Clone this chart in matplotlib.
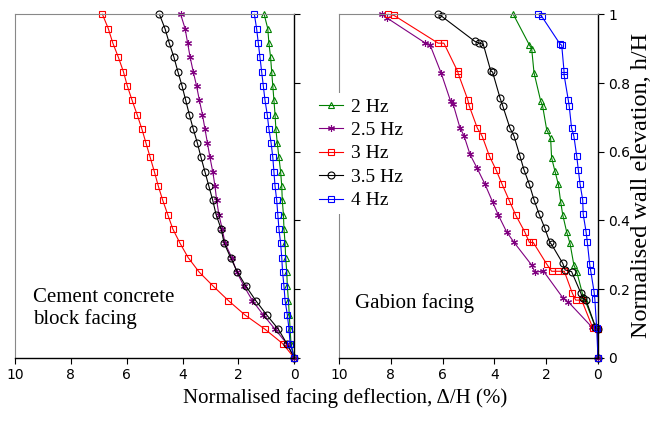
import matplotlib
matplotlib.use("Agg")
import matplotlib.pyplot as plt

plt.rcParams['font.family'] = ['Liberation Serif', 'DejaVu Serif']

# frequencies and plotting styles
freqs = ['2 Hz', '2.5 Hz', '3 Hz', '3.5 Hz', '4 Hz']
colors = ['#008000', '#800080', '#FF0000', '#000000', '#0000FF']
markers = ['^', (6, 2, 0), 's', 'o', 's']

# cement concrete block facing: readings at h/H = k/24 (top to bottom)
h_block = [1 - k / 24 for k in range(25)]
block_2hz = [1.08, 0.95, 0.91, 0.85, 0.81, 0.77, 0.73, 0.69, 0.66, 0.61, 0.55, 0.49, 0.45,
             0.43, 0.39, 0.37, 0.33, 0.31, 0.27, 0.25, 0.21, 0.18, 0.15, 0.12, 0.0]
block_25hz = [4.07, 3.91, 3.82, 3.73, 3.62, 3.50, 3.40, 3.29, 3.20, 3.11, 3.02, 2.92, 2.84,
              2.78, 2.70, 2.58, 2.48, 2.24, 2.06, 1.80, 1.50, 1.11, 0.69, 0.27, 0.0]
block_3hz = [6.87, 6.66, 6.50, 6.30, 6.12, 5.98, 5.81, 5.63, 5.46, 5.31, 5.16, 5.01, 4.87,
             4.71, 4.53, 4.35, 4.09, 3.80, 3.41, 2.90, 2.36, 1.77, 1.05, 0.42, 0.0]
block_35hz = [4.83, 4.63, 4.48, 4.31, 4.17, 4.02, 3.89, 3.76, 3.62, 3.47, 3.34, 3.20, 3.06,
              2.92, 2.80, 2.62, 2.51, 2.28, 2.04, 1.73, 1.38, 0.99, 0.57, 0.27, 0.0]
block_4hz = [1.43, 1.35, 1.29, 1.23, 1.17, 1.11, 1.05, 0.97, 0.91, 0.83, 0.77, 0.73, 0.69,
             0.63, 0.59, 0.55, 0.49, 0.45, 0.42, 0.37, 0.33, 0.25, 0.19, 0.15, 0.0]

# gabion facing: (deflection, elevation) pairs
gab_2hz_x = [3.27, 2.65, 2.56, 2.47, 2.21, 2.14, 1.98, 1.83, 1.79, 1.66, 1.53,
             1.44, 1.36, 1.21, 1.08, 0.93, 0.82, 0.57, 0.50, 0.10, 0.0, 0.0]
gab_2hz_y = [1.0, 0.911, 0.90, 0.83, 0.747, 0.734, 0.664, 0.641, 0.582, 0.543, 0.505,
             0.454, 0.416, 0.367, 0.333, 0.27, 0.251, 0.178, 0.168, 0.09, 0.083, 0.0]
gab_25hz_x = [8.35, 8.16, 6.68, 6.49, 6.06, 5.69, 5.59, 5.33, 5.17, 4.94, 4.68, 4.36,
              4.07, 3.85, 3.53, 3.24, 2.56, 2.43, 2.11, 1.34, 1.15, 0.24, 0.0, 0.0]
gab_25hz_y = [1.0, 0.99, 0.917, 0.912, 0.83, 0.747, 0.738, 0.67, 0.646, 0.592, 0.554, 0.505,
              0.454, 0.416, 0.367, 0.336, 0.27, 0.249, 0.253, 0.173, 0.163, 0.09, 0.083, 0.0]
gab_3hz_x = [8.10, 7.88, 6.17, 5.95, 5.42, 5.39, 5.03, 4.97, 4.66, 4.47, 4.19, 3.94, 3.70,
             3.42, 3.18, 2.83, 2.65, 2.50, 1.98, 1.79, 1.53, 1.30, 0.99, 0.86, 0.63, 0.20, 0.0, 0.0]
gab_3hz_y = [1.0, 0.997, 0.916, 0.916, 0.834, 0.826, 0.752, 0.733, 0.669, 0.645, 0.587, 0.548, 0.505,
             0.457, 0.416, 0.367, 0.336, 0.336, 0.273, 0.252, 0.252, 0.252, 0.188, 0.168, 0.168, 0.087, 0.083, 0.0]
gab_35hz_x = [6.17, 6.03, 4.75, 4.58, 4.43, 4.14, 4.07, 3.78, 3.68, 3.40, 3.24, 3.01, 2.86, 2.65,
              2.47, 2.27, 2.06, 1.86, 1.79, 1.36, 1.27, 1.02, 0.67, 0.59, 0.46, 0.10, 0.0, 0.0]
gab_35hz_y = [1.0, 0.994, 0.921, 0.916, 0.913, 0.835, 0.832, 0.756, 0.734, 0.669, 0.645, 0.587, 0.548, 0.505,
              0.46, 0.418, 0.379, 0.336, 0.33, 0.275, 0.256, 0.251, 0.19, 0.173, 0.168, 0.09, 0.083, 0.0]
gab_4hz_x = [2.31, 2.18, 1.47, 1.40, 1.31, 1.31, 1.15, 1.11, 1.02, 0.93, 0.82, 0.76, 0.69,
             0.59, 0.57, 0.46, 0.41, 0.32, 0.28, 0.15, 0.12, 0.05, 0.0]
gab_4hz_y = [1.0, 0.995, 0.914, 0.91, 0.834, 0.824, 0.752, 0.733, 0.669, 0.645, 0.587, 0.548, 0.505,
             0.46, 0.418, 0.367, 0.336, 0.272, 0.253, 0.192, 0.17, 0.086, 0.0]

block_series = [block_2hz, block_25hz, block_3hz, block_35hz, block_4hz]
gab_series = [(gab_2hz_x, gab_2hz_y), (gab_25hz_x, gab_25hz_y), (gab_3hz_x, gab_3hz_y),
              (gab_35hz_x, gab_35hz_y), (gab_4hz_x, gab_4hz_y)]

fig = plt.figure(figsize=(6.59, 4.21), dpi=100)
ax1 = fig.add_axes([0.0228, 0.150, 0.4238, 0.816])
ax2 = fig.add_axes([0.5144, 0.150, 0.393, 0.816])

def style(c, m):
    return dict(color=c, marker=m, markersize=5, markerfacecolor='none',
                markeredgecolor=c, markeredgewidth=0.8, linewidth=0.8, clip_on=False)

for vals, lab, c, m in zip(block_series, freqs, colors, markers):
    ax1.plot(vals, h_block, label=lab, **style(c, m))
for (xs, ys), lab, c, m in zip(gab_series, freqs, colors, markers):
    ax2.plot(xs, ys, label=lab, **style(c, m))

for ax in (ax1, ax2):
    ax.set_xlim(10, 0)
    ax.set_ylim(0, 1)
    ax.set_xticks([10, 8, 6, 4, 2, 0])
    ax.set_yticks([0, 0.2, 0.4, 0.6, 0.8, 1])
    ax.spines['left'].set_color('#888888')
    ax.spines['top'].set_color('#888888')
    ax.spines['right'].set_linewidth(1.0)
    ax.spines['bottom'].set_linewidth(1.0)
    ax.yaxis.tick_right()
    ax.tick_params(direction='out', length=4, width=0.8, labelsize=10)
    for t in ax.get_xticklabels() + ax.get_yticklabels():
        t.set_family(['Liberation Sans Narrow', 'DejaVu Sans'])

ax1.tick_params(axis='y', labelright=False)
ax2.set_yticklabels(['0', '0.2', '0.4', '0.6', '0.8', '1'])

fig.text(0.974, 0.56, 'Normalised wall elevation, h/H', fontsize=17.5, rotation=90,
         ha='center', va='center')

ax1.text(0.065, 0.085, 'Cement concrete\nblock facing', transform=ax1.transAxes,
         fontsize=15, ha='left', va='bottom', linespacing=1.1)
ax2.text(0.06, 0.13, 'Gabion facing', transform=ax2.transAxes,
         fontsize=15, ha='left', va='bottom')

fig.text(0.524, 0.055, 'Normalised facing deflection, \u0394/H (%)', fontsize=15,
         ha='center', va='center')

leg = ax2.legend(loc='upper left', bbox_to_anchor=(-0.135, 0.799), fontsize=14,
                 frameon=True, facecolor='white', edgecolor='none', framealpha=1,
                 handlelength=1.25, handletextpad=0.4, labelspacing=0.3,
                 borderpad=0.25)

fig.savefig('out.png', dpi=100)
